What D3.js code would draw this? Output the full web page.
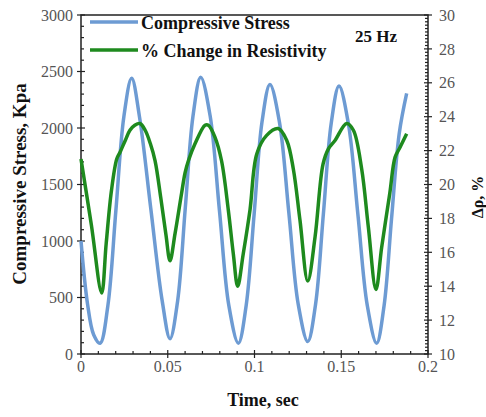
<!DOCTYPE html>
<html>
<head>
<meta charset="utf-8">
<script src="https://cdn.jsdelivr.net/npm/d3@7"></script>
<style>
body { margin: 0; background: #fff; }
svg { display: block; }
text { font-family: "Liberation Serif", "Times New Roman", Times, "DejaVu Serif", "Noto Serif", serif; }
.tick-label { font-size: 16px; fill: #555; }
.title { font-weight: bold; fill: #111; }
</style>
</head>
<body>
<svg id="chart" width="486" height="417"></svg>
<script>
// stress, time (s) and kPa
var stressTime = [0, 0.0037, 0.0073, 0.011, 0.0155, 0.0201, 0.0247, 0.0292, 0.0337, 0.0402, 0.0468, 0.0513,
  0.0557, 0.0601, 0.0645, 0.069, 0.0744, 0.0798, 0.0852, 0.0907, 0.0952, 0.0998, 0.1043, 0.1089,
  0.1144, 0.1198, 0.1252, 0.1307, 0.1352, 0.1397, 0.1442, 0.1487, 0.1541, 0.1596, 0.165, 0.1704,
  0.1747, 0.179, 0.1834, 0.1877];
var stressVal = [1000, 450, 170, 95, 430, 1270, 2100, 2440, 2100, 1290, 470, 135,
  470, 1290, 2100, 2450, 2110, 1270, 430, 95, 430, 1240, 2050, 2385,
  2050, 1250, 440, 110, 440, 1240, 2040, 2372, 2040, 1235, 430, 95,
  430, 1200, 1950, 2307];

// resistivity change, time (s) and %
var resTime = [0, 0.006, 0.0119, 0.0145, 0.0175, 0.0206, 0.0225, 0.0255, 0.0282, 0.031, 0.034, 0.037,
  0.04, 0.0427, 0.046, 0.049, 0.0513, 0.0542, 0.058, 0.06, 0.0619, 0.0657, 0.0715, 0.0734,
  0.0772, 0.081, 0.0849, 0.0878, 0.0903, 0.0935, 0.0974, 0.1013, 0.107, 0.1137, 0.1186, 0.1224,
  0.1262, 0.1307, 0.1349, 0.1395, 0.1426, 0.1464, 0.1531, 0.157, 0.1618, 0.1656, 0.17, 0.1733,
  0.178, 0.181, 0.1839, 0.1877];
var resVal = [21.5, 17.6, 13.6, 16.5, 19.6, 21.5, 21.9, 22.6, 23.2, 23.5, 23.6, 23.2,
  22.4, 21.4, 19.2, 17.0, 15.5, 17.1, 19.5, 20.7, 21.4, 22.4, 23.5, 23.5,
  22.8, 21.4, 18.5, 15.9, 14.0, 15.9, 18.5, 21.8, 22.9, 23.3, 22.6, 20.9,
  17.9, 14.3, 16.9, 21.2, 22.1, 22.6, 23.6, 23.2, 20.9, 17.5, 13.8, 16.3,
  19.5, 21.6, 22.2, 23.0];

var xTicks = [0, 0.05, 0.1, 0.15, 0.2];
var leftTicks = [0, 500, 1000, 1500, 2000, 2500, 3000];
var rightTicks = [10, 12, 14, 16, 18, 20, 22, 24, 26, 28, 30];

var legendNames = ["Compressive Stress", "% Change in Resistivity"];
var colors = ["#6d9bd3", "#1e8a1e"];

var m = {left: 81, right: 428, top: 15, bottom: 354};

var svg = d3.select("#chart");
var x = d3.scaleLinear().domain([0, 0.2]).range([m.left, m.right]);
var yL = d3.scaleLinear().domain([0, 3000]).range([m.bottom, m.top]);
var yR = d3.scaleLinear().domain([10, 30]).range([m.bottom, m.top]);

// frame
svg.append("rect")
  .attr("x", m.left).attr("y", m.top)
  .attr("width", m.right - m.left).attr("height", m.bottom - m.top)
  .attr("fill", "none").attr("stroke", "#222").attr("stroke-width", 1.5);

var g = svg.append("g").attr("stroke", "#222").attr("stroke-width", 1.2);

// bottom ticks
d3.range(0, 0.2001, 0.01).forEach(function(v){
  var major = xTicks.some(function(t){ return Math.abs(t - v) < 1e-6; });
  g.append("line").attr("x1", x(v)).attr("x2", x(v))
    .attr("y1", m.bottom - (major ? 4 : 3)).attr("y2", m.bottom + (major ? 4 : 0));
});
// left ticks
d3.range(0, 3001, 100).forEach(function(v){
  var major = v % 500 === 0;
  g.append("line").attr("y1", yL(v)).attr("y2", yL(v))
    .attr("x1", m.left - (major ? 4 : 0)).attr("x2", m.left + (major ? 4 : 3));
});
// right ticks
d3.range(10, 30.01, 0.2).forEach(function(v){
  var major = Math.abs(v / 2 - Math.round(v / 2)) < 1e-6;
  g.append("line").attr("y1", yR(v)).attr("y2", yR(v))
    .attr("x1", m.right - (major ? 4 : 3)).attr("x2", m.right + (major ? 4 : 0));
});

svg.selectAll(".xl").data(xTicks).enter().append("text")
  .attr("class", "tick-label")
  .attr("x", function(d){ return x(d); }).attr("y", 372)
  .attr("text-anchor", "middle")
  .text(function(d){ return d; });

svg.selectAll(".yl").data(leftTicks).enter().append("text")
  .attr("class", "tick-label")
  .attr("x", 73).attr("y", function(d){ return yL(d); })
  .attr("dy", "0.35em").attr("text-anchor", "end")
  .text(function(d){ return d; });

svg.selectAll(".yr").data(rightTicks).enter().append("text")
  .attr("class", "tick-label")
  .attr("x", 439).attr("y", function(d){ return yR(d); })
  .attr("dy", "0.35em")
  .text(function(d){ return d; });

// series
var stressLine = d3.line()
  .x(function(d, i){ return x(stressTime[i]); })
  .y(function(d){ return yL(d); })
  .curve(d3.curveCatmullRom.alpha(0.5));
var resLine = d3.line()
  .x(function(d, i){ return x(resTime[i]); })
  .y(function(d){ return yR(d); })
  .curve(d3.curveCatmullRom.alpha(0.5));

svg.append("path").datum(stressVal).attr("d", stressLine)
  .attr("fill", "none").attr("stroke", colors[0]).attr("stroke-width", 3.5);
svg.append("path").datum(resVal).attr("d", resLine)
  .attr("fill", "none").attr("stroke", colors[1]).attr("stroke-width", 3.5);

// legend
var legY = [22, 50];
legendNames.forEach(function(name, i){
  svg.append("line").attr("x1", 90).attr("x2", 138)
    .attr("y1", legY[i]).attr("y2", legY[i])
    .attr("stroke", colors[i]).attr("stroke-width", 3.5);
  svg.append("text").attr("class", "title")
    .attr("x", 141).attr("y", legY[i] + 7)
    .style("font-size", "18px")
    .text(name);
});
svg.append("text").attr("class", "title")
  .attr("x", 376).attr("y", 42).attr("text-anchor", "middle")
  .style("font-size", "17px").text("25 Hz");

// axis titles
svg.append("text").attr("class", "title")
  .attr("x", 263).attr("y", 406).attr("text-anchor", "middle")
  .style("font-size", "18px").text("Time, sec");
svg.append("text").attr("class", "title")
  .attr("transform", "translate(26,184) rotate(-90)")
  .attr("text-anchor", "middle")
  .style("font-size", "19px").text("Compressive Stress, Kpa");
svg.append("text").attr("class", "title")
  .attr("transform", "translate(483,197) rotate(-90)")
  .attr("text-anchor", "middle")
  .style("font-size", "16px").text("Δρ, %");
</script>
</body>
</html>
